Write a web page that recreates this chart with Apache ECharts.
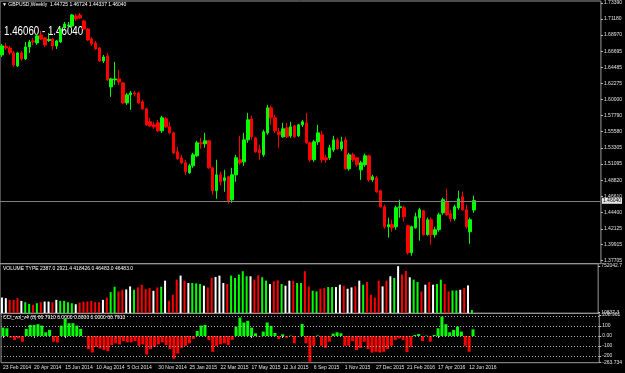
<!DOCTYPE html>
<html>
<head>
<meta charset="utf-8">
<script src="https://cdn.jsdelivr.net/npm/echarts@6/dist/echarts.min.js"></script>
<style>
  html, body { margin: 0; padding: 0; background: #000; }
  #chart { width: 625px; height: 373px; }
</style>
</head>
<body>
<div id="chart"></div>
<script>
// GBPUSD 周线, 23 Feb 2014 起, 每周一根
var opens = [1.6620, 1.6735, 1.6717, 1.6648, 1.6468, 1.6648, 1.6565, 1.6731, 1.6814, 1.6786,
    1.6897, 1.6855, 1.6821, 1.6841, 1.6745, 1.6800, 1.7007, 1.7021, 1.7021, 1.7159,
    1.7173, 1.7090, 1.6979, 1.6841, 1.6786, 1.6717, 1.6537, 1.6606, 1.6177, 1.6274,
    1.6288, 1.6232, 1.5956, 1.6067, 1.6094, 1.6094, 1.5970, 1.5873, 1.5693, 1.5652,
    1.5680, 1.5569, 1.5735, 1.5624, 1.5541, 1.5278, 1.5195, 1.5126, 1.4988, 1.5085,
    1.5223, 1.5403, 1.5389, 1.5431, 1.5057, 1.4739, 1.4960, 1.4877, 1.4933, 1.4615,
    1.4960, 1.5168, 1.5140, 1.5444, 1.5735, 1.5472, 1.5306, 1.5237, 1.5541, 1.5887,
    1.5749, 1.5555, 1.5486, 1.5610, 1.5500, 1.5638, 1.5500, 1.5652, 1.5680, 1.5403,
    1.5168, 1.5417, 1.5514, 1.5195, 1.5195, 1.5306, 1.5444, 1.5320, 1.5444, 1.5043,
    1.5237, 1.5195, 1.5029, 1.5099, 1.5223, 1.4891, 1.4919, 1.4739, 1.4518, 1.4241,
    1.4269, 1.4241, 1.4504, 1.4504, 1.4255, 1.3882, 1.4227, 1.4366, 1.4463, 1.4131,
    1.4338, 1.4131, 1.4200, 1.4435, 1.4587, 1.4421, 1.4352, 1.4504, 1.4656, 1.4476,
    1.4172, 1.44725];
var closes = [1.6745, 1.6717, 1.6648, 1.6482, 1.6648, 1.6565, 1.6731, 1.6800, 1.6800, 1.6883,
    1.6841, 1.6758, 1.6834, 1.6745, 1.6814, 1.6979, 1.7049, 1.7035, 1.7173, 1.7118,
    1.7131, 1.6979, 1.6828, 1.6772, 1.6703, 1.6537, 1.6592, 1.6274, 1.6288, 1.6288,
    1.6246, 1.5956, 1.6067, 1.6094, 1.6080, 1.5956, 1.5873, 1.5652, 1.5638, 1.5624,
    1.5569, 1.5749, 1.5624, 1.5541, 1.5265, 1.5182, 1.5126, 1.5002, 1.5085, 1.5237,
    1.5403, 1.5389, 1.5431, 1.5057, 1.4739, 1.4960, 1.4863, 1.4919, 1.4601, 1.4960,
    1.5195, 1.5126, 1.5444, 1.5721, 1.5486, 1.5278, 1.5265, 1.5555, 1.5887, 1.5749,
    1.5569, 1.5514, 1.5597, 1.5486, 1.5624, 1.5486, 1.5652, 1.5693, 1.5403, 1.5168,
    1.5417, 1.5541, 1.5168, 1.5168, 1.5334, 1.5444, 1.5320, 1.5417, 1.5043, 1.5237,
    1.5168, 1.5099, 1.5126, 1.5223, 1.4891, 1.4933, 1.4725, 1.4518, 1.4241, 1.4269,
    1.4227, 1.4504, 1.4518, 1.4379, 1.3882, 1.4241, 1.4379, 1.4476, 1.4131, 1.4338,
    1.4131, 1.4200, 1.4407, 1.4615, 1.4407, 1.4352, 1.4518, 1.4628, 1.4476, 1.4241,
    1.4338, 1.46040];
var lows = [1.6592, 1.6689, 1.6620, 1.6454, 1.6454, 1.6537, 1.6551, 1.6648, 1.6758, 1.6758,
    1.6828, 1.6731, 1.6800, 1.6689, 1.6703, 1.6786, 1.6979, 1.6993, 1.7007, 1.7090,
    1.7118, 1.6966, 1.6814, 1.6745, 1.6689, 1.6523, 1.6509, 1.6260, 1.6039, 1.6205,
    1.6205, 1.5942, 1.5928, 1.5859, 1.6053, 1.5942, 1.5859, 1.5638, 1.5624, 1.5597,
    1.5555, 1.5541, 1.5610, 1.5527, 1.5251, 1.5168, 1.5112, 1.4960, 1.4974, 1.5057,
    1.5209, 1.5320, 1.5334, 1.5043, 1.4684, 1.4628, 1.4808, 1.4725, 1.4559, 1.4573,
    1.4863, 1.5099, 1.5085, 1.5403, 1.5444, 1.5265, 1.5168, 1.5209, 1.5514, 1.5652,
    1.5541, 1.5334, 1.5472, 1.5472, 1.5472, 1.5472, 1.5486, 1.5624, 1.5389, 1.5140,
    1.5140, 1.5375, 1.5126, 1.5126, 1.5168, 1.5278, 1.5306, 1.5292, 1.5029, 1.5016,
    1.5140, 1.5071, 1.4891, 1.5071, 1.4863, 1.4863, 1.4711, 1.4504, 1.4213, 1.4089,
    1.4172, 1.4200, 1.4366, 1.4310, 1.3854, 1.3840, 1.4213, 1.4048, 1.4117, 1.4117,
    1.3992, 1.4089, 1.4172, 1.4407, 1.4393, 1.4310, 1.4324, 1.4476, 1.4463, 1.4213,
    1.4006, 1.44337];
var highs = [1.6772, 1.6786, 1.6745, 1.6675, 1.6662, 1.6675, 1.6800, 1.6828, 1.6855, 1.6910,
    1.6952, 1.6869, 1.6924, 1.6855, 1.6828, 1.6993, 1.7076, 1.7076, 1.7187, 1.7187,
    1.7201, 1.7104, 1.6993, 1.6869, 1.6814, 1.6731, 1.6620, 1.6648, 1.6302, 1.6523,
    1.6412, 1.6246, 1.6094, 1.6122, 1.6122, 1.6108, 1.5998, 1.5887, 1.5749, 1.5693,
    1.5721, 1.5776, 1.5762, 1.5693, 1.5555, 1.5347, 1.5237, 1.5168, 1.5112, 1.5265,
    1.5431, 1.5472, 1.5541, 1.5444, 1.5071, 1.5168, 1.5002, 1.5029, 1.4946, 1.5057,
    1.5237, 1.5500, 1.5541, 1.5818, 1.5776, 1.5486, 1.5375, 1.5583, 1.5928, 1.5915,
    1.5790, 1.5610, 1.5680, 1.5680, 1.5693, 1.5652, 1.5666, 1.5721, 1.5818, 1.5417,
    1.5444, 1.5652, 1.5569, 1.5237, 1.5375, 1.5500, 1.5472, 1.5486, 1.5486, 1.5265,
    1.5265, 1.5209, 1.5154, 1.5251, 1.5237, 1.4960, 1.4946, 1.4753, 1.4545, 1.4366,
    1.4338, 1.4532, 1.4615, 1.4532, 1.4269, 1.4255, 1.4435, 1.4504, 1.4476, 1.4366,
    1.4366, 1.4241, 1.4435, 1.4642, 1.4767, 1.4476, 1.4545, 1.4739, 1.4725, 1.4545,
    1.4366, 1.46724];

// 成交量 (VOLUME TYPE) 及颜色: w 白 / r 红 / g 绿
var volumes = [247600, 236900, 209900, 209900, 236900, 193700, 172100, 145200, 129000, 155900,
    172100, 182900, 182900, 172100, 209900, 193700, 193700, 172100, 155900, 139700,
    166700, 182900, 182900, 193700, 172100, 172100, 209900, 247600, 333900, 420300,
    344700, 371700, 377100, 425700, 371700, 409500, 452600, 382500, 398700, 355500,
    409500, 420300, 517400, 193700, 290800, 533500, 598300, 517400, 479600, 479600,
    474200, 463400, 436500, 409500, 560500, 576700, 598300, 479600, 463400, 598300,
    560500, 614500, 668400, 587500, 587500, 533500, 603700, 571300, 517400, 463400,
    506600, 522700, 463400, 436500, 517400, 517400, 479600, 479600, 668400, 425700,
    355500, 344700, 387900, 398700, 414900, 414900, 414900, 452600, 436500, 387900,
    409500, 425700, 517400, 452600, 495800, 290800, 247600, 517400, 425700, 517400,
    587500, 560500, 749300, 614500, 673800, 571300, 533500, 495800, 344700, 452600,
    495800, 452600, 463400, 533500, 463400, 344700, 360900, 360900, 371700, 398700,
    441800, 46483];
var volTypes = ['w','w','r','r','r','w','g','g','r','g',
    'r','w','w','r','w','g','g','g','g','w',
    'r','r','r','r','r','r','w','r','g','g',
    'r','r','w','w','g','r','r','r','r','w',
    'r','g','w','r','r','r','w','r','w','g',
    'g','g','w','r','r','w','w','w','r','g',
    'g','g','g','g','w','r','r','g','g','w',
    'r','r','g','w','w','r','g','g','r','r',
    'g','g','r','r','g','g','w','w','r','w',
    'w','r','w','g','r','r','r','r','w','r',
    'w','g','w','r','r','w','g','g','r','w',
    'r','w','g','g','r','r','g','g','w','r',
    'w','g'];

// CCI_vol_v4 (8)
var cciValues = [84, 77, -17, -40, -24, -57, 71, 111, 111, 118,
    104, 37, 61, -57, -64, 104, 172, 128, 128, 104,
    71, -5, -131, -165, -108, -125, -141, -151, -91, -74,
    -84, -50, -64, -64, -50, -98, -84, -185, -131, -108,
    -84, -64, -91, -131, -226, -175, -118, -98, -74, -30,
    50, 104, 111, -40, -158, -98, -84, -74, -91, -40,
    94, 185, 135, 152, 84, 27, -7, 44, 135, 101,
    30, -30, 17, -17, 3, -74, -5, 121, -74, -256,
    -98, 5, -98, -118, -57, 24, 37, 27, -98, -98,
    -50, -141, -118, -57, -131, -165, -158, -165, -158, -131,
    -98, -40, -24, -40, -162, -108, 10, 20, -50, 3,
    -57, 10, 77, 195, 118, 37, 61, 94, 44, -98,
    -158, 66.791];

// 刻度标签
var dateLabels = ['23 Feb 2014', '20 Apr 2014', '15 Jun 2014', '10 Aug 2014', '5 Oct 2014',
    '30 Nov 2014', '25 Jan 2015', '22 Mar 2015', '17 May 2015', '12 Jul 2015', '6 Sep 2015',
    '1 Nov 2015', '27 Dec 2015', '21 Feb 2016', '17 Apr 2016', '12 Jun 2016'];
var priceTicks = [1.73390, 1.71180, 1.68970, 1.66695, 1.64485, 1.62275, 1.60000, 1.57790, 1.55580,
    1.53305, 1.51095, 1.48820, 1.46610, 1.44400, 1.42125, 1.39915, 1.37705];
var volumeTicks = [10837.3, 752042.7];
var cciTicks = [208.961, 100, 0, -100, -200, -263.734];
var cciLevels = [200, 100, 0, -100, -200];
var lastPrice = 1.46040;

var barCount = 154; // 右侧留白
var categories = [];
for (var i = 0; i < barCount; i++) {
    categories.push(i % 8 === 0 && i / 8 < dateLabels.length ? dateLabels[i / 8] : '');
}
function showTick(index) {
    return index % 8 === 0 && index / 8 < dateLabels.length;
}

var kData = opens.map(function (o, i) {
    return [o, closes[i], lows[i], highs[i]];
});
var volColorMap = { w: '#ffffff', r: '#ff0000', g: '#00ff00' };
var volData = volumes.map(function (v, i) {
    return { value: v, itemStyle: { color: volColorMap[volTypes[i]] } };
});
var cciData = cciValues.map(function (v) {
    return { value: v, itemStyle: { color: v >= 0 ? '#00ff00' : '#ff0000' } };
});

var labelFont = 'Liberation Sans';
var axisText = { color: '#e0e0e0', fontSize: 5, fontFamily: labelFont };
var gridBorder = { show: true, borderColor: '#9a9a9a', borderWidth: 1, backgroundColor: 'transparent' };

function xAxisFor(gridIndex, showLabels) {
    return {
        type: 'category',
        gridIndex: gridIndex,
        data: categories,
        boundaryGap: true,
        axisLine: { show: false },
        axisTick: {
            show: showLabels, length: 2, alignWithLabel: true, interval: showTick,
            lineStyle: { color: '#c0c0c0' }
        },
        axisLabel: Object.assign({
            show: showLabels, interval: showTick, align: 'left', margin: 2
        }, axisText),
        splitLine: { show: false }
    };
}
function yAxisFor(gridIndex, min, max, ticks, fmt) {
    return {
        type: 'value',
        gridIndex: gridIndex,
        position: 'right',
        min: min,
        max: max,
        axisLine: { show: false },
        axisTick: { show: true, length: 2, customValues: ticks, lineStyle: { color: '#c0c0c0' } },
        axisLabel: Object.assign({ customValues: ticks, margin: 3, formatter: fmt }, axisText),
        splitLine: { show: false }
    };
}

var chart = echarts.init(document.getElementById('chart'));
var option = {
    animation: false,
    backgroundColor: '#000',
    title: [
        {
            text: '\u25BC GBPUSD,Weekly  1.44725 1.46724 1.44337 1.46040',
            left: 2, top: 2, padding: 0,
            textStyle: { color: '#ffffff', fontSize: 5, fontWeight: 'normal', fontFamily: labelFont }
        },
        {
            text: 'VOLUME TYPE 2387.0 2921.4 418426.0 46483.0 46483.0',
            left: 3, top: 266, padding: 0,
            textStyle: { color: '#ffffff', fontSize: 5, fontWeight: 'normal', fontFamily: labelFont }
        },
        {
            text: 'CCI_vol_v4 (8) 66.7910 0.0000 0.0000 0.0000 66.7910',
            left: 3, top: 315, padding: 0,
            textStyle: { color: '#ffffff', fontSize: 5, fontWeight: 'normal', fontFamily: labelFont }
        }
    ],
    // 买卖价文字, 横向压窄
    graphic: [
        {
            type: 'text',
            x: 4,
            y: 25,
            scaleX: 0.78,
            style: {
                text: '1.46060 - 1.46040',
                fill: '#ffffff',
                font: '12.5px "Liberation Sans"'
            }
        }
    ],
    grid: [
        Object.assign({ left: 0, right: 21, top: 1, height: 262.7 }, gridBorder),
        Object.assign({ left: 0, right: 21, top: 263.7, height: 49.6 }, gridBorder),
        Object.assign({ left: 0, right: 21, top: 313.3, height: 49.4 }, gridBorder)
    ],
    xAxis: [xAxisFor(0, false), xAxisFor(1, false), xAxisFor(2, true)],
    yAxis: [
        yAxisFor(0, 1.37290, 1.73667, priceTicks, function (v) { return v.toFixed(5); }),
        yAxisFor(1, -5172, 788863, volumeTicks, function (v) { return v.toFixed(1); }),
        yAxisFor(2, -267, 227, cciTicks, function (v) { return v === 0 ? '0.00' : String(v); })
    ],
    series: [
        {
            name: 'GBPUSD',
            type: 'candlestick',
            xAxisIndex: 0,
            yAxisIndex: 0,
            data: kData,
            barWidth: 3,
            itemStyle: {
                color: '#00ff00', color0: '#ff0000',
                borderColor: '#00ff00', borderColor0: '#ff0000', borderWidth: 1
            },
            markLine: {
                silent: true,
                symbol: ['none', 'none'],
                lineStyle: { color: '#808080', type: 'solid', width: 1 },
                label: {
                    show: true, position: 'end', distance: 1,
                    formatter: lastPrice.toFixed(5),
                    color: '#000', backgroundColor: '#e6e6e6',
                    fontSize: 5, fontFamily: labelFont, padding: [1, 1, 0, 1]
                },
                data: [{ yAxis: lastPrice }]
            }
        },
        {
            name: 'VOLUME TYPE',
            type: 'bar',
            xAxisIndex: 1,
            yAxisIndex: 1,
            data: volData,
            barWidth: 2
        },
        {
            name: 'CCI_vol_v4',
            type: 'bar',
            xAxisIndex: 2,
            yAxisIndex: 2,
            data: cciData,
            barWidth: 3,
            markLine: {
                silent: true,
                symbol: ['none', 'none'],
                lineStyle: { color: '#b4b4b4', type: [1, 2], width: 1 },
                label: { show: false },
                data: cciLevels.map(function (v) { return { yAxis: v }; })
            }
        }
    ]
};
chart.setOption(option);
</script>
</body>
</html>
